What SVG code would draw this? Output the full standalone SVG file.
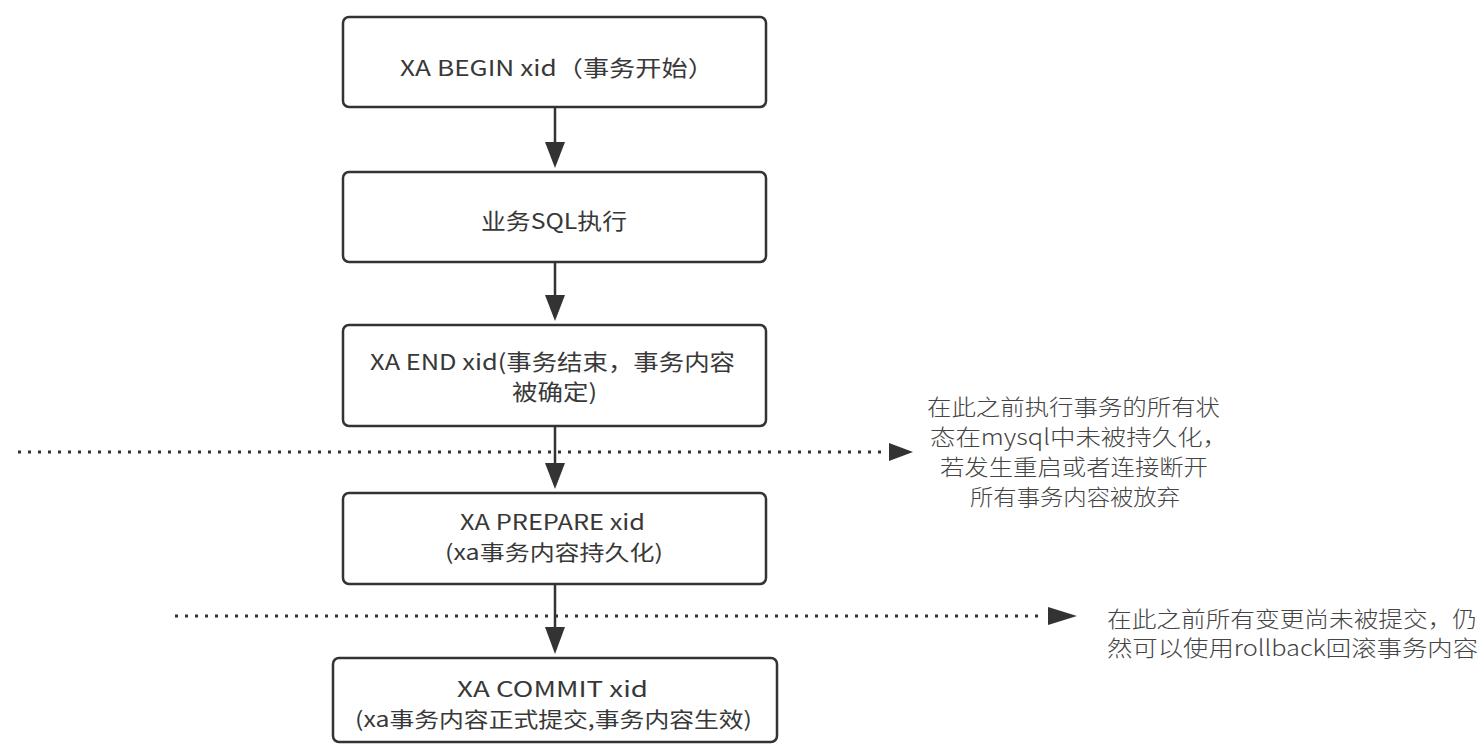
<svg xmlns="http://www.w3.org/2000/svg" width="1484" height="745" viewBox="0 0 1484 745">
<style>
.box{fill:#fff;stroke:#333;stroke-width:2.5}
.t{font-family:"Noto Sans CJK SC","Liberation Sans",sans-serif;font-size:22px;fill:#383838}
.s{font-size:21px}
.n{font-family:"Noto Sans CJK SC","Liberation Sans",sans-serif;font-size:22px;fill:#444;font-weight:300}
.c{stroke:#333;stroke-width:2.5;fill:none}
.d{stroke:#333;stroke-width:3;fill:none;stroke-dasharray:3 7}
</style>
<rect width="1484" height="745" fill="#fff"/>
<g id="connectors">
<line class="c" x1="555" y1="107" x2="555" y2="143"/>
<path d="M545,142 L565,142 L555,168 Z" fill="#333"/>
<line class="c" x1="555" y1="262" x2="555" y2="296"/>
<path d="M545,295 L565,295 L555,321 Z" fill="#333"/>
<line class="c" x1="555" y1="426" x2="555" y2="464"/>
<path d="M545,463 L565,463 L555,489 Z" fill="#333"/>
<line class="c" x1="555" y1="584" x2="555" y2="628"/>
<path d="M545,627 L565,627 L555,654 Z" fill="#333"/>
<line class="d" x1="18" y1="452" x2="884" y2="452"/>
<path d="M889,443 L913,452 L889,461 Z" fill="#333"/>
<line class="d" x1="175" y1="616" x2="1044" y2="616"/>
<path d="M1048,607 L1077,616 L1048,625 Z" fill="#333"/>
</g>
<g id="n1">
<rect class="box" x="343" y="17" width="423" height="90" rx="6"/>
<text class="t" x="400" y="76" textLength="314" lengthAdjust="spacingAndGlyphs">XA BEGIN xid（事务开始）</text>
</g>
<g id="n2">
<rect class="box" x="343" y="172" width="423" height="90" rx="6"/>
<text class="t" x="481" y="229" textLength="146" lengthAdjust="spacingAndGlyphs">业务SQL执行</text>
</g>
<g id="n3">
<rect class="box" x="343" y="325" width="423" height="101" rx="6"/>
<text class="t" x="370" y="370" textLength="365" lengthAdjust="spacingAndGlyphs">XA END xid(事务结束，事务内容</text>
<text class="t" x="512" y="400" textLength="85" lengthAdjust="spacingAndGlyphs">被确定)</text>
</g>
<g id="n4">
<rect class="box" x="343" y="493" width="423" height="91" rx="6"/>
<text class="t s" x="460" y="530" textLength="185" lengthAdjust="spacingAndGlyphs">XA PREPARE xid</text>
<text class="t s" x="445" y="560" textLength="218" lengthAdjust="spacingAndGlyphs">(xa事务内容持久化)</text>
</g>
<g id="n5">
<rect class="box" x="333" y="658" width="444" height="84" rx="6"/>
<text class="t s" x="457" y="697" textLength="191" lengthAdjust="spacingAndGlyphs">XA COMMIT xid</text>
<text class="t s" x="355" y="727" textLength="397" lengthAdjust="spacingAndGlyphs">(xa事务内容正式提交,事务内容生效)</text>
</g>
<g id="note1">
<text class="n" x="927" y="415" textLength="293" lengthAdjust="spacingAndGlyphs">在此之前执行事务的所有状</text>
<text class="n" x="930" y="445" textLength="298" lengthAdjust="spacingAndGlyphs">态在mysql中未被持久化，</text>
<text class="n" x="940" y="475" textLength="268" lengthAdjust="spacingAndGlyphs">若发生重启或者连接断开</text>
<text class="n" x="970" y="505" textLength="210" lengthAdjust="spacingAndGlyphs">所有事务内容被放弃</text>
</g>
<g id="note2">
<text class="n s" x="1107" y="627" textLength="370" lengthAdjust="spacingAndGlyphs">在此之前所有变更尚未被提交，仍</text>
<text class="n s" x="1107" y="656" textLength="371" lengthAdjust="spacingAndGlyphs">然可以使用rollback回滚事务内容</text>
</g>
</svg>
